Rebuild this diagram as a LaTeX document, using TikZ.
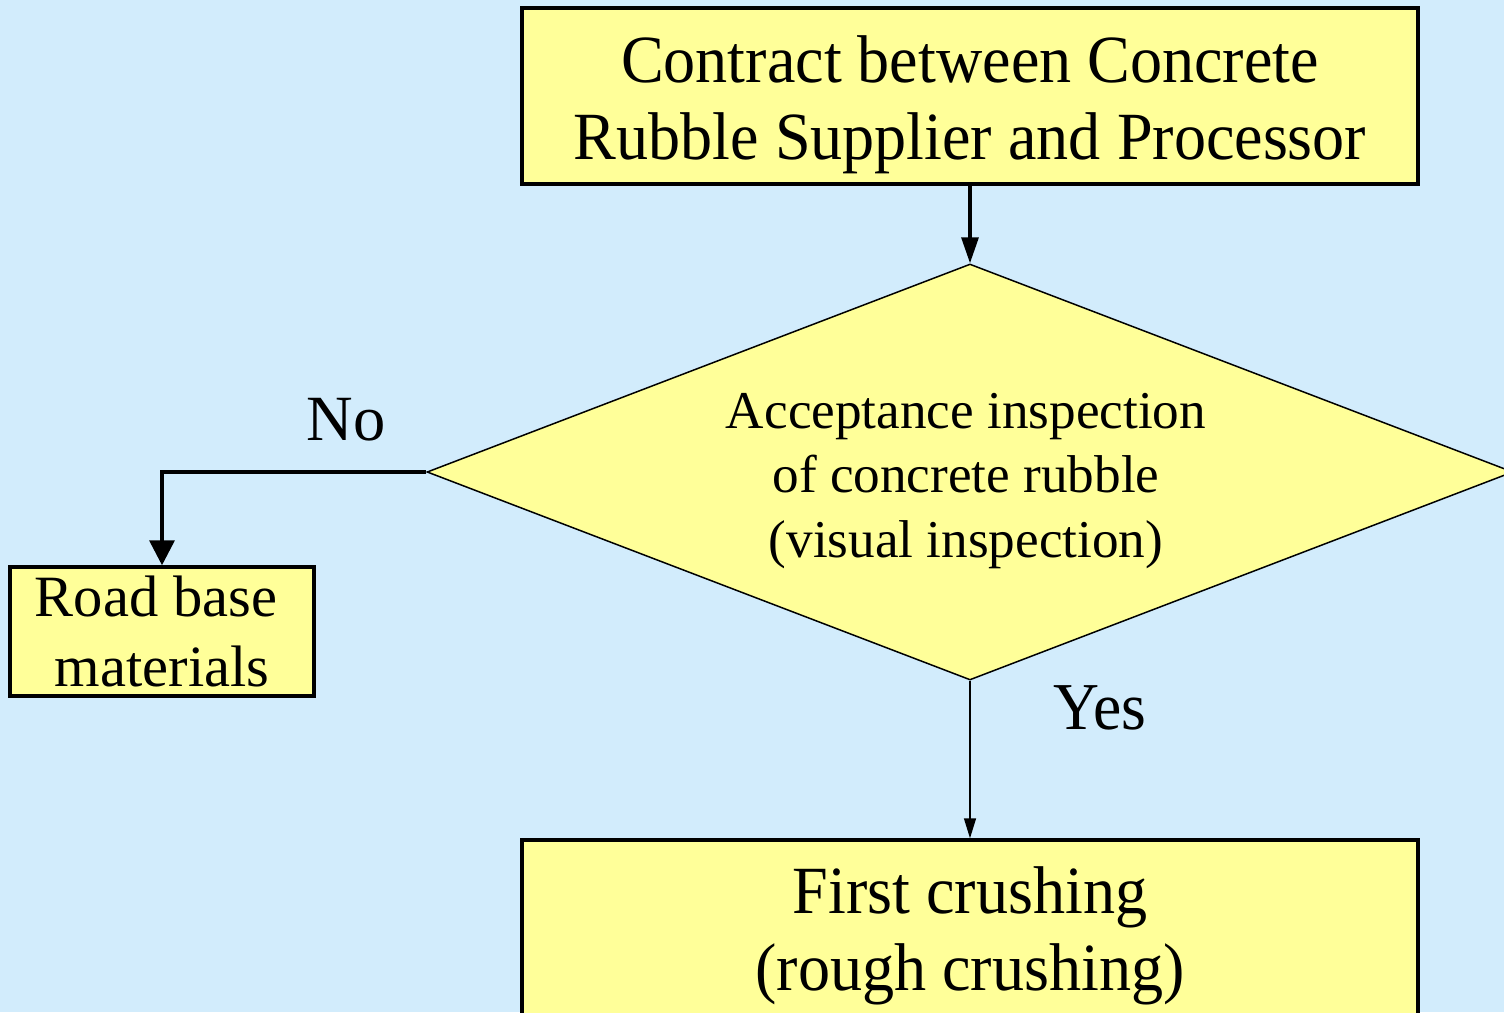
\documentclass[tikz,border=0pt]{standalone}
\usepackage{fontspec}
\setmainfont{Liberation Serif}
\newfontfamily\condfont{Liberation Serif}[FakeStretch=0.95]
\usetikzlibrary{shapes.geometric,arrows.meta}
\definecolor{bgblue}{HTML}{D2ECFC}
\definecolor{boxyellow}{HTML}{FFFF99}
\tikzset{
  bigbox/.style={draw=black, fill=boxyellow, line width=3.5pt, minimum width=896pt, inner sep=0pt},
  bigtext/.style={align=center, inner sep=0pt, font=\condfont\fontsize{67.5}{77}\selectfont},
  smallbox/.style={draw=black, fill=boxyellow, line width=3.5pt, minimum width=304pt, minimum height=129pt, inner sep=0pt},
  smalltext/.style={align=center, inner sep=0pt, font=\fontsize{58.5}{70}\selectfont},
  decision/.style={draw=black, fill=boxyellow, line width=1.5pt, shape=diamond, aspect=2.61, minimum width=1086pt, minimum height=416pt, inner sep=0pt},
  dtext/.style={align=center, inner sep=0pt, font=\fontsize{53.2}{64.5}\selectfont},
  lbl/.style={inner sep=0pt},
  thickarrow/.style={line width=3.2pt, -{Triangle[length=26pt,width=17pt]}},
  noarrow/.style={line width=3.5pt, -{Triangle[length=25pt,width=25pt]}},
  thinarrow/.style={line width=1.5pt, -{Triangle[length=20pt,width=12pt]}}
}
\begin{document}
\begin{tikzpicture}[x=1pt,y=-1pt]
\path[use as bounding box, fill=bgblue] (0,0) rectangle (1504,1012);
\begin{scope}
\clip (0,0) rectangle (1504,1012);
\node[bigbox, minimum height=176pt] (contract) at (970,96) {};
\node[bigtext] (contracttext) at (970,105) {Contract between Concrete\\Rubble Supplier and Processor};
\node[decision] (inspect) at (970,472) {};
\node[dtext] (inspecttext) at (966,481) {Acceptance inspection\\of concrete rubble\\(visual inspection)};
\node[smallbox] (road) at (162,631.5) {};
\node[smalltext] (roadtext) at (162,631.5) {Road base\hspace*{12pt}\\materials};
\node[bigbox, minimum height=240pt] (crush) at (970,960) {};
\node[bigtext] (crushtext) at (970,936) {First crushing\\(rough crushing)};
\coordinate (corner) at (162,472);
\draw[thickarrow] (contract.south) -- (inspect.north);
\draw[noarrow] (inspect.west) -- (corner) -- (road.north);
\draw[thinarrow] (inspect.south) -- (crush.north);
\node[lbl, font=\fontsize{64.5}{70}\selectfont] (nolbl) at (346,420) {No};
\node[lbl, font=\condfont\fontsize{67}{70}\selectfont] (yeslbl) at (1100,708) {Yes};
\end{scope}
\end{tikzpicture}
\end{document}
